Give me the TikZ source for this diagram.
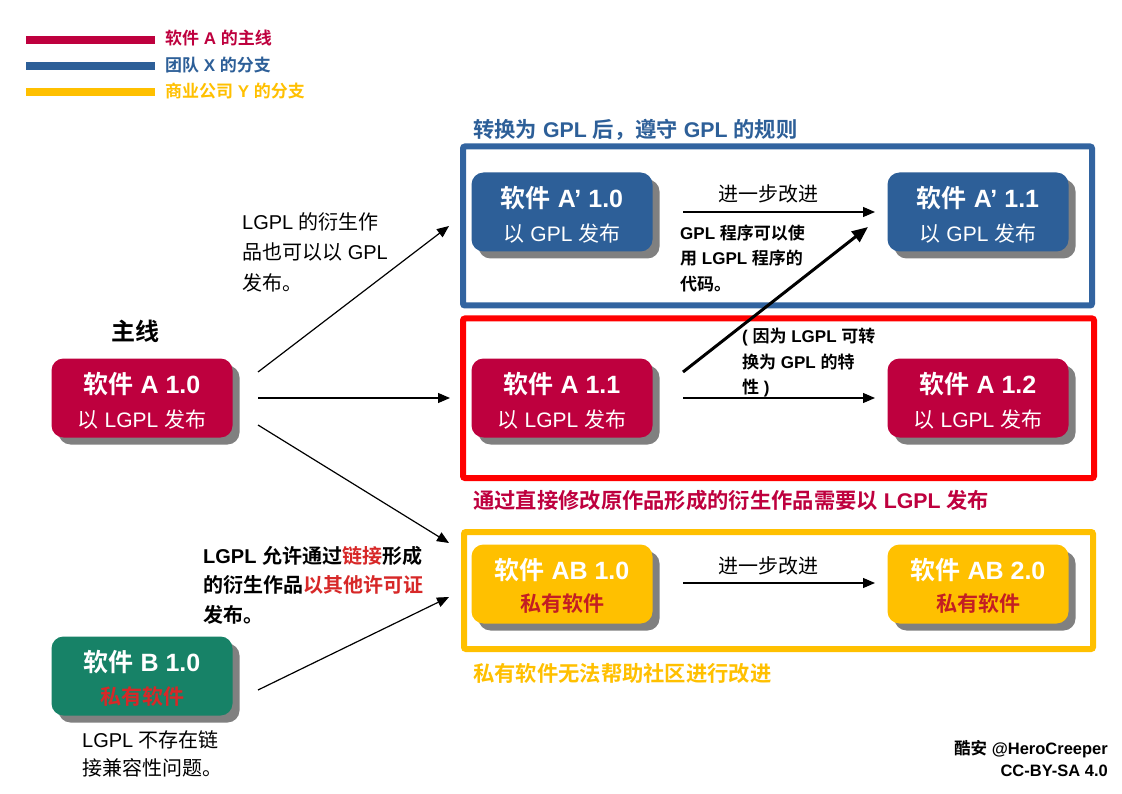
\documentclass[tikz,border=0pt]{standalone}
\usepackage{fontspec}
\setmainfont{Liberation Sans}
\newfontfamily\cjkfont{Noto Sans CJK SC}[BoldFont={Noto Sans CJK SC Bold}]
\XeTeXinterchartokenstate=1
\newXeTeXintercharclass\CJKclass
\makeatletter
\count@="3000
\loop\ifnum\count@<"3040 \XeTeXcharclass\count@=\CJKclass \advance\count@ 1 \repeat
\count@="4E00
\loop\ifnum\count@<"A000 \XeTeXcharclass\count@=\CJKclass \advance\count@ 1 \repeat
\count@="FF00
\loop\ifnum\count@<"FFF0 \XeTeXcharclass\count@=\CJKclass \advance\count@ 1 \repeat
\makeatother
\XeTeXinterchartoks 0 \CJKclass = {\begingroup\cjkfont}
\XeTeXinterchartoks 4095 \CJKclass = {\begingroup\cjkfont}
\XeTeXinterchartoks \CJKclass 0 = {\endgroup}
\XeTeXinterchartoks \CJKclass 4095 = {\endgroup}
\usetikzlibrary{shadows,arrows.meta,calc}
\definecolor{crim}{RGB}{190,0,62}
\definecolor{blu}{RGB}{45,95,152}
\definecolor{fblu}{RGB}{50,100,160}
\definecolor{yel}{RGB}{255,192,0}
\definecolor{grn}{RGB}{23,130,103}
\definecolor{dred}{RGB}{195,30,35}
\definecolor{txred}{RGB}{215,40,40}
\definecolor{shd}{RGB}{128,128,128}
\tikzset{
  box/.style={rounded corners=12pt, minimum width=181pt, minimum height=79pt, inner sep=0pt,
    drop shadow={shadow xshift=7pt, shadow yshift=-7pt, fill=shd, opacity=1}},
  ttl/.style={text=white, font=\bfseries\fontsize{25}{30}\selectfont, inner sep=0pt},
  subt/.style={text=white, font=\fontsize{21}{25}\selectfont, inner sep=0pt},
  subb/.style={font=\bfseries\fontsize{21}{25}\selectfont, inner sep=0pt},
  arr/.style={line width=1.2pt, -{Triangle[length=12pt,width=10pt]}},
  thickarr/.style={line width=3pt, -{Triangle[length=16pt,width=13pt]}},
  frm/.style={line width=6pt, rounded corners=2pt},
  legline/.style={line width=8pt},
  legtxt/.style={font=\bfseries\fontsize{17}{20}\selectfont, anchor=west, inner sep=0pt},
  ftitle/.style={font=\bfseries\fontsize{21.3}{25}\selectfont, anchor=west, inner sep=0pt},
  ntext/.style={font=\fontsize{20}{30.5}\selectfont, align=left, anchor=west, inner sep=0pt},
  bntext/.style={font=\bfseries\fontsize{17}{25.5}\selectfont, align=left, anchor=west, inner sep=0pt},
  lbl/.style={font=\fontsize{20}{24}\selectfont, inner sep=0pt}
}
\begin{document}
\begin{tikzpicture}[x=1pt,y=-1pt]
\fill[white] (0,0) rectangle (1122,794);
\useasboundingbox (0,0) rectangle (1122,794);

% legend
\coordinate (lr1) at (26,40); \coordinate (lr2) at (155,40);
\coordinate (lb1) at (26,66.5); \coordinate (lb2) at (155,66.5);
\coordinate (ly1) at (26,92.5); \coordinate (ly2) at (155,92.5);
\draw[legline, crim] (lr1) -- (lr2);
\draw[legline, blu] (lb1) -- (lb2);
\draw[legline, yel] (ly1) -- (ly2);
\node[legtxt, text=crim] (leg1) at (165,38) {软件 A 的主线};
\node[legtxt, text=blu] (leg2) at (165,65) {团队 X 的分支};
\node[legtxt, text=yel] (leg3) at (165,91) {商业公司 Y 的分支};

% frames
\draw[frm, draw=fblu] (463,146.5) rectangle (1092,305.5);
\draw[frm, draw=red] (463,318.5) rectangle (1094,478);
\draw[frm, draw=yel] (464,532) rectangle (1093,649);
\node[ftitle, text=blu] (ftb) at (473,130) {转换为 GPL 后，遵守 GPL 的规则};
\node[ftitle, text=crim] (ftr) at (473,500) {通过直接修改原作品形成的衍生作品需要以 LGPL 发布};
\node[ftitle, text=yel] (fty) at (473,673) {私有软件无法帮助社区进行改进};

% boxes
\node[box, fill=crim] (a10) at (142,398) {};
\node[ttl] at ($(a10.center)+(0,-14)$) {软件 A 1.0};
\node[subt] at ($(a10.center)+(0,22)$) {以 LGPL 发布};

\node[box, fill=blu] (ap10) at (562,212) {};
\node[ttl] at ($(ap10.center)+(0,-14)$) {软件 A’ 1.0};
\node[subt] at ($(ap10.center)+(0,22)$) {以 GPL 发布};

\node[box, fill=blu] (ap11) at (978,212) {};
\node[ttl] at ($(ap11.center)+(0,-14)$) {软件 A’ 1.1};
\node[subt] at ($(ap11.center)+(0,22)$) {以 GPL 发布};

\node[box, fill=crim] (a11) at (562,398) {};
\node[ttl] at ($(a11.center)+(0,-14)$) {软件 A 1.1};
\node[subt] at ($(a11.center)+(0,22)$) {以 LGPL 发布};

\node[box, fill=crim] (a12) at (978,398) {};
\node[ttl] at ($(a12.center)+(0,-14)$) {软件 A 1.2};
\node[subt] at ($(a12.center)+(0,22)$) {以 LGPL 发布};

\node[box, fill=yel] (ab10) at (562,584) {};
\node[ttl] at ($(ab10.center)+(0,-14)$) {软件 AB 1.0};
\node[subb, text=dred] at ($(ab10.center)+(0,20)$) {私有软件};

\node[box, fill=yel] (ab20) at (978,584) {};
\node[ttl] at ($(ab20.center)+(0,-14)$) {软件 AB 2.0};
\node[subb, text=dred] at ($(ab20.center)+(0,20)$) {私有软件};

\node[box, fill=grn] (b10) at (142,676) {};
\node[ttl] at ($(b10.center)+(0,-14)$) {软件 B 1.0};
\node[subb, text=txred] at ($(b10.center)+(0,21)$) {私有软件};

% arrows
\coordinate (s1) at (258,372); \coordinate (e1) at (449,226);
\coordinate (s2) at (258,398); \coordinate (e2) at (450,398);
\coordinate (s3) at (258,425); \coordinate (e3) at (449,543);
\coordinate (s4) at (258,690); \coordinate (e4) at (449,597);
\coordinate (s5) at (683,212); \coordinate (e5) at (875,212);
\coordinate (s6) at (683,372); \coordinate (e6) at (868,227);
\coordinate (s7) at (683,398); \coordinate (e7) at (875,398);
\coordinate (s8) at (683,583); \coordinate (e8) at (875,583);
\draw[arr] (s1) -- (e1);
\draw[arr] (s2) -- (e2);
\draw[arr] (s3) -- (e3);
\draw[arr] (s4) -- (e4);
\draw[arr] (s5) -- (e5);
\draw[thickarr] (s6) -- (e6);
\draw[arr] (s7) -- (e7);
\draw[arr] (s8) -- (e8);
\node[lbl] (imp1) at (768,194) {进一步改进};
\node[lbl] (imp2) at (768,566) {进一步改进};

% notes
\node[font=\bfseries\fontsize{24}{28}\selectfont, inner sep=0pt] (main) at (135,331) {主线};
\node[ntext] (t1) at (242,252) {LGPL 的衍生作\\品也可以以 GPL\\发布。};
\node[bntext] (t2) at (680,258) {GPL 程序可以使\\用 LGPL 程序的\\代码。};
\node[bntext] (t3) at (742,363) {( 因为 LGPL 可转\\换为 GPL 的特\\性 )};
\node[font=\bfseries\fontsize{20}{29.5}\selectfont, align=left, anchor=west, inner sep=0pt] (t4) at (203,585)
  {LGPL 允许通过\textcolor{txred}{链接}形成\\的衍生作品\textcolor{txred}{以其他许可证}\\发布。};
\node[font=\fontsize{20}{28.5}\selectfont, align=left, anchor=west, inner sep=0pt] (t5) at (82,754) {LGPL 不存在链\\接兼容性问题。};
\node[font=\bfseries\fontsize{16.5}{22}\selectfont, align=right, anchor=east, inner sep=0pt] (cr) at (1108,759) {酷安 @HeroCreeper\\CC-BY-SA 4.0};
\end{tikzpicture}
\end{document}
